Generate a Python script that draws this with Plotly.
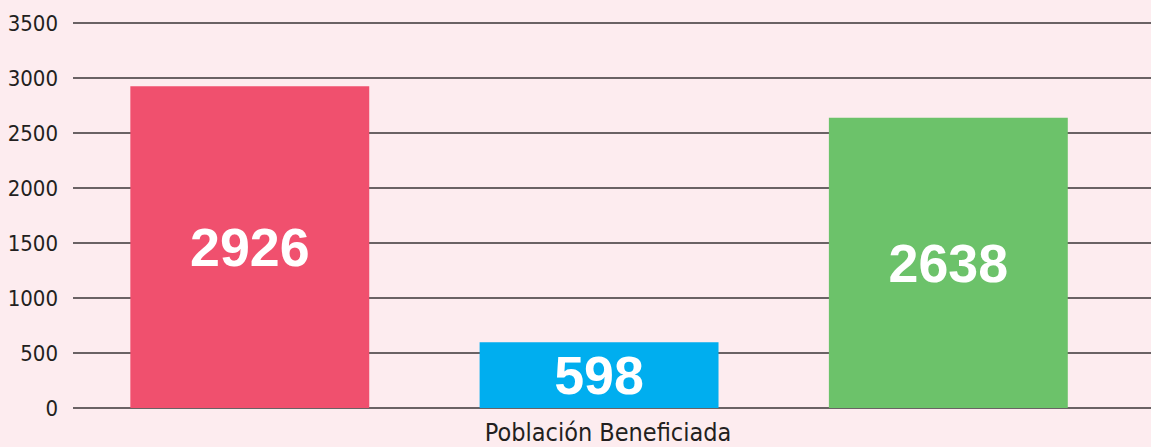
import plotly.graph_objects as go

category = ["Población Beneficiada"]
series_names = ["Serie A", "Serie B", "Serie C"]
values = [2926, 598, 2638]
colors = ["#F0506E", "#00AEEF", "#6CC26A"]
y_ticks = [0, 500, 1000, 1500, 2000, 2500, 3000, 3500]

BG = "#FDECEF"
NARROW = "Liberation Sans Narrow, DejaVu Sans Condensed, Roboto, sans-serif"

fig = go.Figure()
for name, v, c in zip(series_names, values, colors):
    fig.add_trace(go.Bar(
        x=category, y=[v], name=name, marker=dict(color=c, line=dict(width=0)),
        text=[str(v)], textposition="inside", insidetextanchor="middle",
        textfont=dict(family="Liberation Sans, Arial, sans-serif", size=54, color="white"),
        texttemplate="<b>%{text}</b>", textangle=0,
    ))

fig.update_layout(
    width=1151, height=447,
    margin=dict(l=73, r=0, t=22, b=38),
    paper_bgcolor=BG, plot_bgcolor=BG,
    barmode="group", bargap=0.028, bargroupgap=0.316,
    showlegend=False,
    uniformtext=dict(minsize=10, mode="show"),
    font=dict(family=NARROW, color="#231F20", size=22),
)
fig.update_yaxes(range=[-10, 3510], tickvals=y_ticks, showgrid=True, gridcolor="#6A6264",
                 gridwidth=1.5, zeroline=False, showline=False, ticks="",
                 ticklabelstandoff=14, tickfont=dict(size=22))
fig.update_xaxes(range=[-0.488, 0.512], showgrid=False, showline=False, ticks="",
                 tickfont=dict(size=25), ticklabelstandoff=6, ticklabelshift=9)

fig.write_html(
    "out.html",
    config={"displayModeBar": False},
    post_script=f"document.body.style.margin='0';document.body.style.background='{BG}';",
)
